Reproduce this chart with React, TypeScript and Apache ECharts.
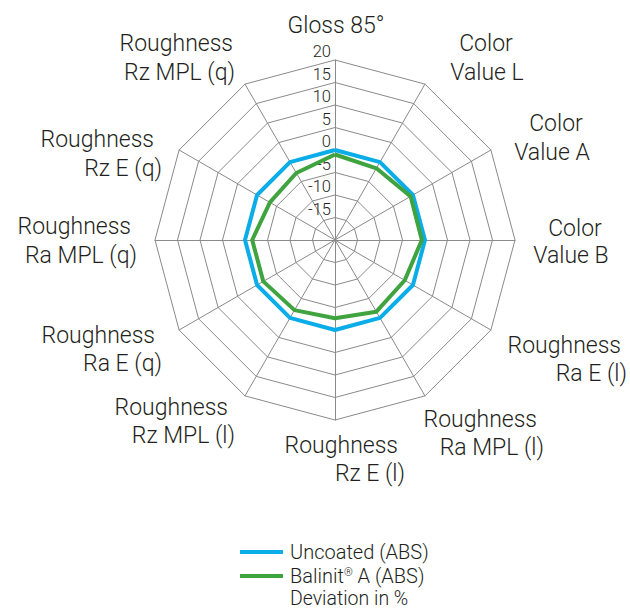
import React, { useEffect, useRef } from 'react';
import * as echarts from 'echarts';

// ---------- data ----------
// indicators in clockwise order starting at the top
const indicatorNames = [
  'Gloss 85°',
  'Color\nValue L',
  'Color\nValue A',
  'Color\nValue B',
  'Roughness\nRa E (l)',
  'Roughness\nRa MPL (l)',
  'Roughness\nRz E (l)',
  'Roughness\nRz MPL (l)',
  'Roughness\nRa E (q)',
  'Roughness\nRa MPL (q)',
  'Roughness\nRz E (q)',
  'Roughness\nRz MPL (q)',
];
const uncoatedValues = [0, 0, 0, 0, 0, 0, 0, 0, 0, 0, 0, 0];
const balinitValues = [-1, -1.6, -0.6, -0.7, -2.1, -1.6, -2.6, -2.0, -1.6, -1.6, -3.3, -2.8];
const seriesNames = ['Uncoated (ABS)', 'Balinit® A (ABS)'];
const axisMin = -20;
const axisMax = 20;
const axisSplits = 8;
const hiddenTick = -20;
const noteText = 'Deviation in %';

// ---------- layout / style (not data) ----------
const COLORS = ['#0AADE8', '#3FA33F'];
const GRID = '#8a8a8a';
const TEXT = '#231f20';
const FONT = 'Roboto, "Liberation Sans", Arial, sans-serif';
const WEIGHT = 300;

// per indicator: per line [x, y, align]
const nameLayout: [number, number, string][][] = [
  [[336, 25, 'center']],
  [[486, 43, 'center'], [487, 72, 'center']],
  [[556, 123, 'center'], [552, 152, 'center']],
  [[575, 228, 'center'], [571, 255, 'center']],
  [[621, 345, 'right'], [627, 373, 'right']],
  [[537, 419, 'right'], [544, 447, 'right']],
  [[398, 445, 'right'], [405, 473, 'right']],
  [[228, 407, 'right'], [235, 435, 'right']],
  [[155, 335, 'right'], [162, 363, 'right']],
  [[131, 226, 'right'], [137, 255, 'right']],
  [[154, 139, 'right'], [162, 168, 'right']],
  [[233, 43, 'right'], [235, 72, 'right']],
];

// ECharts lays radar indicators out counter-clockwise; reorder so they run clockwise
const toCCW = <T,>(arr: T[]): T[] => [arr[0], ...arr.slice(1).reverse()];

export default function App() {
  const ref = useRef<HTMLDivElement>(null);

  useEffect(() => {
    if (!ref.current) return;
    const chart = echarts.init(ref.current, undefined, { renderer: 'svg' });

    const indicators = toCCW(indicatorNames).map((name, i) => {
      const ind: any = { name, min: axisMin, max: axisMax };
      if (i === 0) {
        ind.axisLabel = {
          show: true,
          fontSize: 16.5,
          fontFamily: FONT,
          fontWeight: WEIGHT,
          color: TEXT,
          margin: 4,
          verticalAlign: 'bottom',
          formatter: (v: number) => (v === hiddenTick ? '' : String(v)),
        };
      }
      return ind;
    });

    const labelTexts: any[] = [];
    indicatorNames.forEach((name, i) => {
      name.split('\n').forEach((line, j) => {
        const [x, y, align] = nameLayout[i][j];
        labelTexts.push({
          type: 'text',
          x,
          y,
          silent: true,
          style: {
            text: line,
            fill: TEXT,
            font: `${WEIGHT} 23px ${FONT}`,
            textAlign: align,
            textVerticalAlign: 'middle',
          },
        });
      });
    });

    chart.setOption({
      animation: false,
      color: COLORS,
      legend: {
        orient: 'vertical',
        left: 235,
        top: 537,
        icon: 'rect',
        itemWidth: 43,
        itemHeight: 4,
        itemGap: 4,
        data: seriesNames,
        formatter: (n: string) => n.replace('®', '{sup|®}'),
        textStyle: {
          fontFamily: FONT,
          fontWeight: WEIGHT,
          fontSize: 20,
          color: TEXT,
          lineHeight: 19,
          padding: [0, 0, 0, 2],
          rich: {
            sup: { fontSize: 11, fontFamily: FONT, fontWeight: WEIGHT, color: TEXT, verticalAlign: 'top', lineHeight: 19 },
          },
        },
      },
      radar: {
        center: [335, 240],
        radius: 180,
        shape: 'polygon',
        splitNumber: axisSplits,
        indicator: indicators,
        axisName: { show: false },
        axisLabel: { show: false },
        axisTick: { show: false },
        axisLine: { lineStyle: { color: GRID, width: 1 } },
        splitLine: { lineStyle: { color: GRID, width: 1 } },
        splitArea: { show: false },
      },
      series: [
        {
          type: 'radar',
          symbol: 'none',
          data: [
            {
              name: seriesNames[0],
              value: toCCW(uncoatedValues),
              lineStyle: { color: COLORS[0], width: 4 },
              itemStyle: { color: COLORS[0] },
            },
            {
              name: seriesNames[1],
              value: toCCW(balinitValues),
              lineStyle: { color: COLORS[1], width: 4 },
              itemStyle: { color: COLORS[1] },
            },
          ],
        },
      ],
      graphic: [
        ...labelTexts,
        {
          type: 'text',
          x: 290,
          y: 598.5,
          silent: true,
          style: {
            text: noteText,
            fill: TEXT,
            font: `${WEIGHT} 19.5px ${FONT}`,
            lineHeight: 19,
            textAlign: 'left',
            textVerticalAlign: 'middle',
          },
        },
      ],
    });

    return () => chart.dispose();
  }, []);

  return (
    <div
      ref={ref}
      style={{ position: 'fixed', left: 0, top: 0, width: 630, height: 610, background: '#fff' }}
    />
  );
}
